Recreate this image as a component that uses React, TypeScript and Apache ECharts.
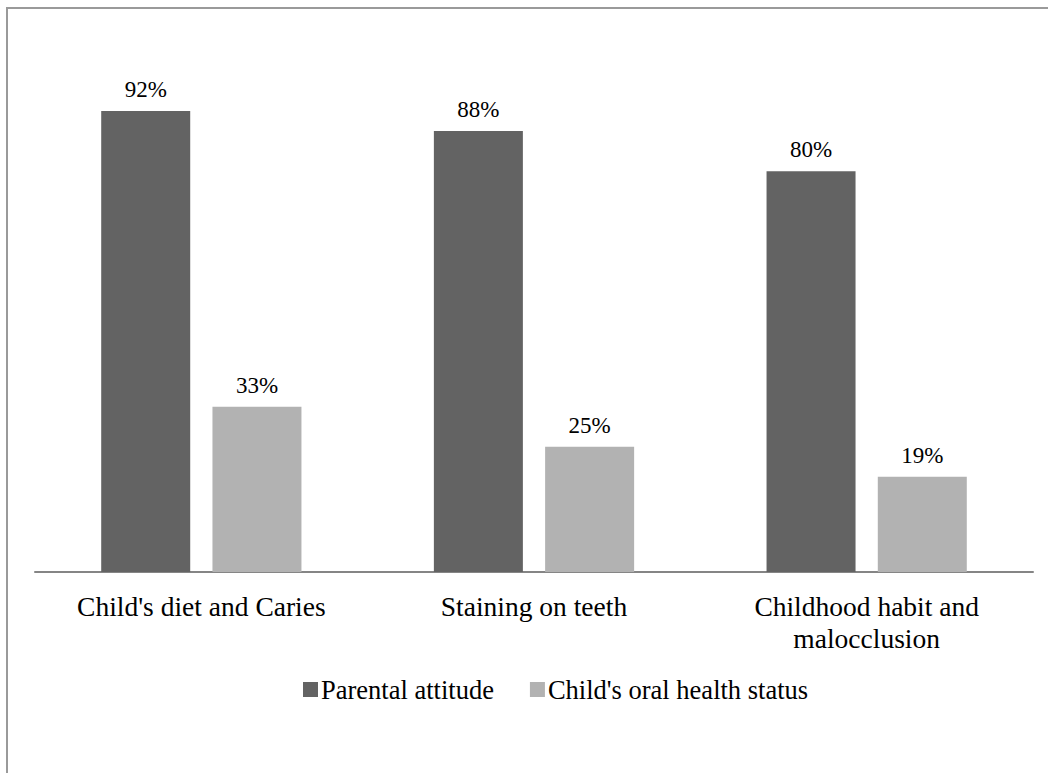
import React, { useEffect, useRef } from "react";
import * as echarts from "echarts";

const categories = ["Child's diet and Caries", "Staining on teeth", "Childhood habit and\nmalocclusion"];
const seriesNames = ["Parental attitude", "Child's oral health status"];
const parentalAttitude = [92, 88, 80];
const oralHealthStatus = [33, 25, 19];
const colors = ["#636363", "#b2b2b2"];

const FONT = "Liberation Serif";

export default function App() {
  const ref = useRef<HTMLDivElement>(null);
  useEffect(() => {
    document.body.style.margin = "0";
    const chart = echarts.init(ref.current!, null, { renderer: "svg" });
    const label = {
      show: true,
      position: "top",
      distance: 10,
      formatter: "{c}%",
      color: "#000",
      fontFamily: FONT,
      fontSize: 23,
    };
    chart.setOption({
      animation: false,
      textStyle: { fontFamily: FONT },
      graphic: [
        {
          type: "rect",
          shape: { x: 7, y: 8, width: 1200, height: 1000 },
          style: { fill: "none", stroke: "#9a9a9a", lineWidth: 2 },
          silent: true,
          z: -1,
        },
      ],
      grid: { left: 35, right: 15, top: 71, bottom: 201, containLabel: false },
      legend: {
        left: 298,
        top: 671,
        itemWidth: 15,
        itemHeight: 15,
        itemGap: 36,
        icon: "rect",
        textStyle: { fontFamily: FONT, fontSize: 26.5, color: "#000", padding: [0, 0, 0, -2] },
        data: seriesNames,
      },
      xAxis: {
        type: "category",
        data: categories,
        axisLine: { lineStyle: { color: "#858585", width: 2 } },
        axisTick: { show: false },
        axisLabel: {
          interval: 0,
          margin: 18,
          color: "#000",
          fontFamily: FONT,
          fontSize: 27.5,
          lineHeight: 32,
        },
      },
      yAxis: {
        type: "value",
        min: 0,
        max: 100,
        show: false,
        splitLine: { show: false },
      },
      series: [
        {
          name: seriesNames[0],
          type: "bar",
          data: parentalAttitude,
          itemStyle: { color: colors[0] },
          barWidth: 89,
          barGap: "25%",
          label,
        },
        {
          name: seriesNames[1],
          type: "bar",
          data: oralHealthStatus,
          itemStyle: { color: colors[1] },
          barWidth: 89,
          label,
        },
      ],
    });
    return () => chart.dispose();
  }, []);
  return <div ref={ref} style={{ width: 1048, height: 773 }} />;
}
